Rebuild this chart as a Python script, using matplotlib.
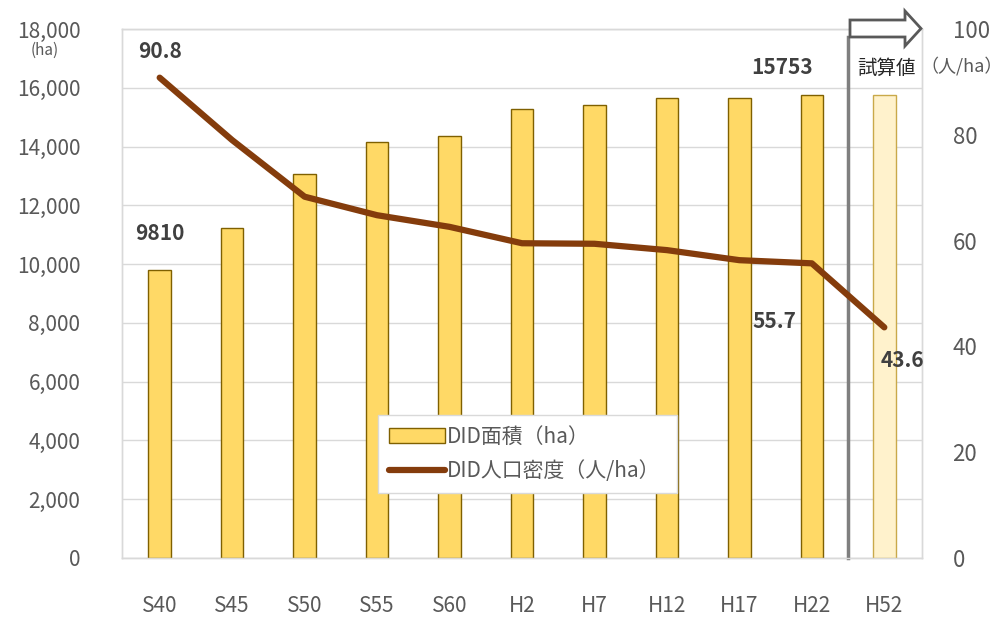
import matplotlib
matplotlib.use("Agg")
import matplotlib.pyplot as plt
from matplotlib.patches import Polygon, Patch
from matplotlib.lines import Line2D
import matplotlib.transforms as mtransforms

plt.rcParams['font.family'] = ['Noto Sans CJK JP', 'DejaVu Sans']

# DID area (ha) and DID population density (persons/ha)
years = ['S40', 'S45', 'S50', 'S55', 'S60', 'H2', 'H7', 'H12', 'H17', 'H22', 'H52']
area = [9810, 11220, 13060, 14170, 14360, 15270, 15410, 15660, 15660, 15753, 15753]
density = [90.8, 79.0, 68.3, 64.8, 62.6, 59.5, 59.4, 58.2, 56.3, 55.7, 43.6]
left_ticks = [0, 2000, 4000, 6000, 8000, 10000, 12000, 14000, 16000, 18000]
right_ticks = [0, 20, 40, 60, 80, 100]

tick_color = '#595959'
label_color = '#404040'
grid_color = '#D9D9D9'
bar_color = '#FFD966'
bar_edge = '#7F6000'
est_color = '#FFF2CC'
est_edge = '#C9A94A'
line_color = '#843C0C'

fig = plt.figure(figsize=(10.08, 6.2), dpi=100)
ax = fig.add_axes([122 / 1008, 62 / 620, 800 / 1008, 529 / 620])
x = list(range(len(years)))

colors = [bar_color] * (len(years) - 1) + [est_color]
edges = [bar_edge] * (len(years) - 1) + [est_edge]
ax.bar(x, area, width=0.31, color=colors, edgecolor=edges, linewidth=1.0, zorder=3)

ax.set_xlim(-0.52, 10.52)
ax.set_ylim(0, 18000)
ax.set_yticks(left_ticks)
ax.set_yticklabels([f'{v:,}' for v in left_ticks])
ax.set_xticks(x)
ax.set_xticklabels(years)
ax.tick_params(axis='y', length=0, pad=30, labelsize=15, labelcolor=tick_color)
ax.tick_params(axis='x', length=0, pad=27, labelsize=15, labelcolor=tick_color)
ax.grid(axis='y', color=grid_color, linewidth=1.0, zorder=0)
ax.set_axisbelow(True)
for s in ax.spines.values():
    s.set_color(grid_color)
    s.set_linewidth(1.0)

ax2 = ax.twinx()
ax2.plot(x, density, color=line_color, linewidth=4.5, solid_capstyle='round', zorder=5)
ax2.set_ylim(0, 100)
ax2.set_yticks(right_ticks)
ax2.tick_params(axis='y', length=0, pad=22, labelsize=16, labelcolor=tick_color)
for s in ax2.spines.values():
    s.set_color(grid_color)
    s.set_linewidth(1.0)

# value labels
lab = dict(fontsize=15, fontweight='bold', color=label_color, textcoords='offset pixels')
ax2.annotate('90.8', (0, density[0]), xytext=(0, 26), ha='center', va='center', **lab)
ax.annotate(f'{area[0]}', (0, area[0]), xytext=(0, 36), ha='center', va='center', **lab)
ax.annotate(f'{area[9]}', (9, area[9]), xytext=(-30, 28), ha='center', va='center', **lab)
ax2.annotate('55.7', (9, density[9]), xytext=(-37, -58), ha='center', va='center', **lab)
ax2.annotate('43.6', (10, density[10]), xytext=(18, -33), ha='center', va='center', **lab)

# separator for the estimated value, with a hollow arrow on top
trans = mtransforms.blended_transform_factory(ax.transData, ax.transAxes)
ax.plot([9.5, 9.5], [0, (558 - 37) / 529], color='#7F7F7F', linewidth=2.5,
        transform=trans, clip_on=False, zorder=6)
arrow_px = [(850, 20), (905, 20), (905, 11), (921, 28.5), (905, 46), (905, 37), (850, 37)]
arrow = Polygon([(px / 1008, 1 - py / 620) for px, py in arrow_px], closed=True,
                facecolor='white', edgecolor='#595959', linewidth=2.0,
                transform=fig.transFigure)
fig.patches.append(arrow)
fig.text(887 / 1008, 1 - 68 / 620, '試算値', ha='center', va='center',
         fontsize=14, color='#262626')
fig.text(1003 / 1008, 1 - 66 / 620, '（人/ha）', ha='right', va='center',
         fontsize=13, color=tick_color)
fig.text(45 / 1008, 1 - 50 / 620, '(ha)', ha='center', va='center',
         fontsize=11, color=tick_color)

handles = [Patch(facecolor=bar_color, edgecolor=bar_edge, linewidth=1.0),
           Line2D([0], [0], color=line_color, linewidth=4.5, solid_capstyle='round')]
leg = ax2.legend(handles, ['DID面積（ha）', 'DID人口密度（人/ha）'],
                 loc='lower left', bbox_to_anchor=(0.3075, 0.104, 0.399, 0.17),
                 mode='expand', fontsize=15, handlelength=2.7, handleheight=0.7,
                 handletextpad=0.1, borderpad=0.5, labelspacing=0.6,
                 fancybox=False, framealpha=1.0, edgecolor=grid_color)
for t in leg.get_texts():
    t.set_color(tick_color)

fig.savefig('out.png', dpi=100)
